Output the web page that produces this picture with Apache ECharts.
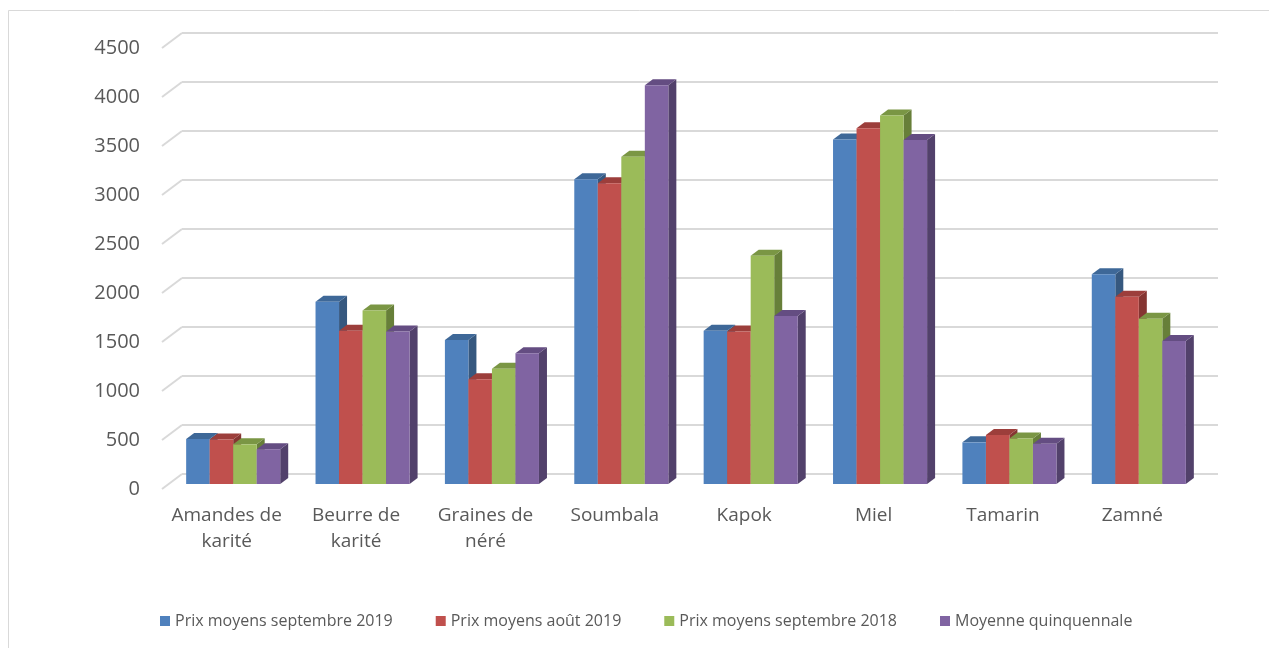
<!DOCTYPE html>
<html>
<head>
<meta charset="utf-8">
<script src="https://cdn.jsdelivr.net/npm/echarts@6/dist/echarts.min.js"></script>
<style>html,body{margin:0;padding:0;background:#fff}#c{width:1269px;height:648px}</style>
</head>
<body>
<div id="c"></div>
<script>
const categories = ['Amandes de\nkarité','Beurre de\nkarité','Graines de\nnéré','Soumbala','Kapok','Miel','Tamarin','Zamné'];
const seriesNames = ['Prix moyens septembre 2019','Prix moyens août 2019','Prix moyens septembre 2018','Moyenne quinquennale'];
const prixSept2019 = [460, 1860, 1470, 3110, 1565, 3515, 425, 2140];
const prixAout2019 = [455, 1565, 1070, 3070, 1555, 3630, 500, 1910];
const prixSept2018 = [405, 1770, 1175, 3340, 2330, 3760, 465, 1685];
const moyenneQuinq = [355, 1555, 1335, 4070, 1715, 3510, 410, 1460];
const yTicks = [0, 500, 1000, 1500, 2000, 2500, 3000, 3500, 4000, 4500];

const allValues = [prixSept2019, prixAout2019, prixSept2018, moyenneQuinq];
const faceColors = [
  {front:'#4F81BD', top:'#3E6898', side:'#36587F'},
  {front:'#C0504D', top:'#9C3E3B', side:'#853532'},
  {front:'#9BBB59', top:'#7A9644', side:'#677F39'},
  {front:'#8064A2', top:'#644D82', side:'#52416B'}
];
const DEPTH_X = 20, DEPTH_Y = -15;       // full depth of the floor
const BAR_SHIFT_X = 6.5, BAR_SHIFT_Y = -5; // bar front plane
const BAR_DX = 8, BAR_DY = -6;            // bar thickness
const GROUP_RATIO = 0.727;
const font = "'Open Sans', 'DejaVu Sans', sans-serif";
const txt = '#595959';

function barRender(si) {
  return function (params, api) {
    const ci = api.value(0), v = api.value(1);
    const band = api.size([1, 0])[0];
    const c = api.coord([ci, v]);
    const base = api.coord([ci, 0]);
    const gw = band * GROUP_RATIO, bw = gw / 4;
    const x0 = c[0] - gw / 2 + si * bw + BAR_SHIFT_X;
    const x1 = x0 + bw;
    const yt = c[1] + BAR_SHIFT_Y, yb = base[1] + BAR_SHIFT_Y;
    const col = faceColors[si];
    return {
      type: 'group',
      children: [
        {type:'polygon', shape:{points:[[x1,yt],[x1,yb],[x1+BAR_DX,yb+BAR_DY],[x1+BAR_DX,yt+BAR_DY]]}, style:{fill:col.side}},
        {type:'polygon', shape:{points:[[x0,yt],[x1,yt],[x1+BAR_DX,yt+BAR_DY],[x0+BAR_DX,yt+BAR_DY]]}, style:{fill:col.top}},
        {type:'rect', shape:{x:x0, y:yt, width:bw, height:yb-yt}, style:{fill:col.front}}
      ]
    };
  };
}

const series = [{
  type: 'custom', name: '_diag', xAxisIndex: 0, yAxisIndex: 0, silent: true,
  data: yTicks.map(v => [0, v]),
  renderItem: function (params, api) {
    const y = api.coord([0, api.value(1)])[1];
    const x = params.coordSys.x;
    return {type:'line', shape:{x1:x, y1:y, x2:x+DEPTH_X, y2:y+DEPTH_Y}, style:{stroke:'#D9D9D9', lineWidth:2}};
  }
}];
allValues.forEach((arr, si) => {
  series.push({
    type: 'custom', name: seriesNames[si], xAxisIndex: 0, yAxisIndex: 0,
    itemStyle: {color: faceColors[si].front},
    data: arr.map((v, i) => [i, v]),
    encode: {x: 0, y: 1},
    renderItem: barRender(si)
  });
});

const chart = echarts.init(document.getElementById('c'), null, {renderer: 'canvas'});
chart.setOption({
  animation: false,
  backgroundColor: '#fff',
  graphic: [{type:'rect', shape:{x:8.5, y:10.5, width:1400, height:800}, style:{fill:'none', stroke:'#D9D9D9', lineWidth:1}, silent:true, z:-10}],
  grid: [
    {left: 162, right: 72, top: 48, bottom: 159},
    {left: 182, right: 51, top: 33, bottom: 174}
  ],
  xAxis: [
    {type:'category', gridIndex:0, data: categories, boundaryGap:true,
     axisLine:{show:false}, axisTick:{show:false},
     axisLabel:{interval:0, margin:14, fontSize:19, lineHeight:26, color:txt, fontFamily:font}},
    {type:'category', gridIndex:1, data: categories, show:false}
  ],
  yAxis: [
    {type:'value', gridIndex:0, min:0, max:4500, interval:500,
     axisLine:{show:false}, axisTick:{show:false}, splitLine:{show:false},
     axisLabel:{margin:22, fontSize:20, color:txt, fontFamily:font, formatter: v => String(v)}},
    {type:'value', gridIndex:1, min:0, max:4500, interval:500,
     axisLine:{show:false}, axisTick:{show:false}, axisLabel:{show:false},
     splitLine:{show:true, lineStyle:{color:'#D9D9D9', width:2}}}
  ],
  legend: {
    data: seriesNames, top: 608, left: 155, icon: 'rect', itemWidth: 10, itemHeight: 10, itemGap: 43,
    textStyle: {fontSize: 16, color: txt, fontFamily: font}
  },
  series: series
});
</script>
</body>
</html>
